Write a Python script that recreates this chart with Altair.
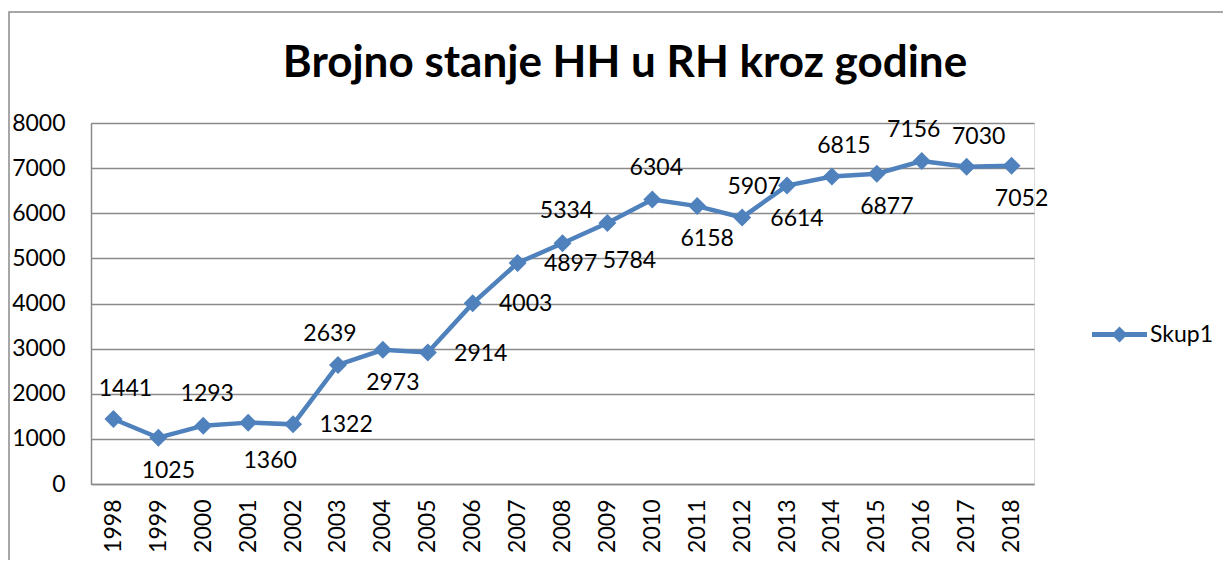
import altair as alt
import pandas as pd

# ---- data ----
years = [str(y) for y in range(1998, 2019)]
values = [1441, 1025, 1293, 1360, 1322, 2639, 2973, 2914, 4003, 4897, 5334,
          5784, 6304, 6158, 5907, 6614, 6815, 6877, 7156, 7030, 7052]
series = ["Skup1"] * len(years)
y_ticks = [0, 1000, 2000, 3000, 4000, 5000, 6000, 7000, 8000]
title_text = "Brojno stanje HH u RH kroz godine"

# label placement (style, not data)
placement = ["aboveR", "below", "above", "belowR", "right", "aboveL", "below",
             "right", "right", "right", "above", "belowR", "above", "below",
             "aboveR", "below", "aboveR", "below", "aboveL", "aboveR", "below"]

df = pd.DataFrame({"year": years, "value": values, "series": series,
                   "place": placement})

BLUE = "#4F81BD"
GRID = "#8a8a8a"
FONT = "Lato"

x = alt.X("year:O", title=None,
          axis=alt.Axis(labelAngle=270, labelFont=FONT, labelFontSize=23,
                        labelColor="black", labelPadding=15, ticks=False,
                        domainColor=GRID, domainWidth=1.5, grid=False))
y = alt.Y("value:Q", title=None,
          scale=alt.Scale(domain=[0, 8000], nice=False),
          axis=alt.Axis(values=y_ticks, labelFont=FONT, labelFontSize=23,
                        labelColor="black", labelPadding=26, ticks=False,
                        domainColor=GRID, domainWidth=1.5, gridColor=GRID,
                        gridWidth=1.5, format="d"))

base = alt.Chart(df)

deco = alt.Chart(pd.DataFrame({"t": [title_text]}))

frame = deco.mark_rect(
    fill=None, stroke="#8a8a8a", strokeWidth=1.5).encode(
    x=alt.value(-82), x2=alt.value(1400), y=alt.value(-111), y2=alt.value(700))

title = deco.mark_text(font=FONT, fontSize=44, fontWeight="bold",
                       color="black", align="center",
                       baseline="alphabetic").encode(
    x=alt.value(534), y=alt.value(-46), text="t:N")

line = base.mark_line(color=BLUE, strokeWidth=4.5).encode(x=x, y=y)

legend_path = ("M-1,-0.09 L-0.2,-0.09 L0,-0.29 L0.2,-0.09 L1,-0.09 L1,0.09 "
               "L0.2,0.09 L0,0.29 L-0.2,0.09 L-1,0.09 Z")

points = base.mark_point(shape="diamond", filled=True, size=324,
                         opacity=1).encode(
    x=x, y=y,
    color=alt.Color("series:N", scale=alt.Scale(range=[BLUE]),
                    legend=alt.Legend(title=None, orient="none",
                                      legendX=1001, legendY=184,
                                      symbolType=legend_path, symbolSize=3025,
                                      symbolStrokeWidth=0, symbolOpacity=1,
                                      labelFont=FONT, labelFontSize=23,
                                      labelColor="black", labelOffset=3)))

offsets = {"above": (4, -32), "aboveL": (-8, -31), "aboveR": (12, -30),
           "below": (10, 33), "belowR": (22, 38), "right": (53, 1)}
texts = []
for p, (ddx, ddy) in offsets.items():
    texts.append(base.transform_filter(alt.datum.place == p).mark_text(
        font=FONT, fontSize=23, color="black", dx=ddx, dy=ddy,
        baseline="middle").encode(x=x, y=y, text=alt.Text("value:Q", format="d")))

chart = alt.layer(frame, title, line, points, *texts).properties(
    width=943, height=361,
    padding={"left": 83, "top": 115, "right": 189, "bottom": 76},
    autosize=alt.AutoSizeParams(type="none"),
).configure_view(stroke=None).configure(background="white")

chart.save("out.html", embed_options={"renderer": "svg", "actions": False})
